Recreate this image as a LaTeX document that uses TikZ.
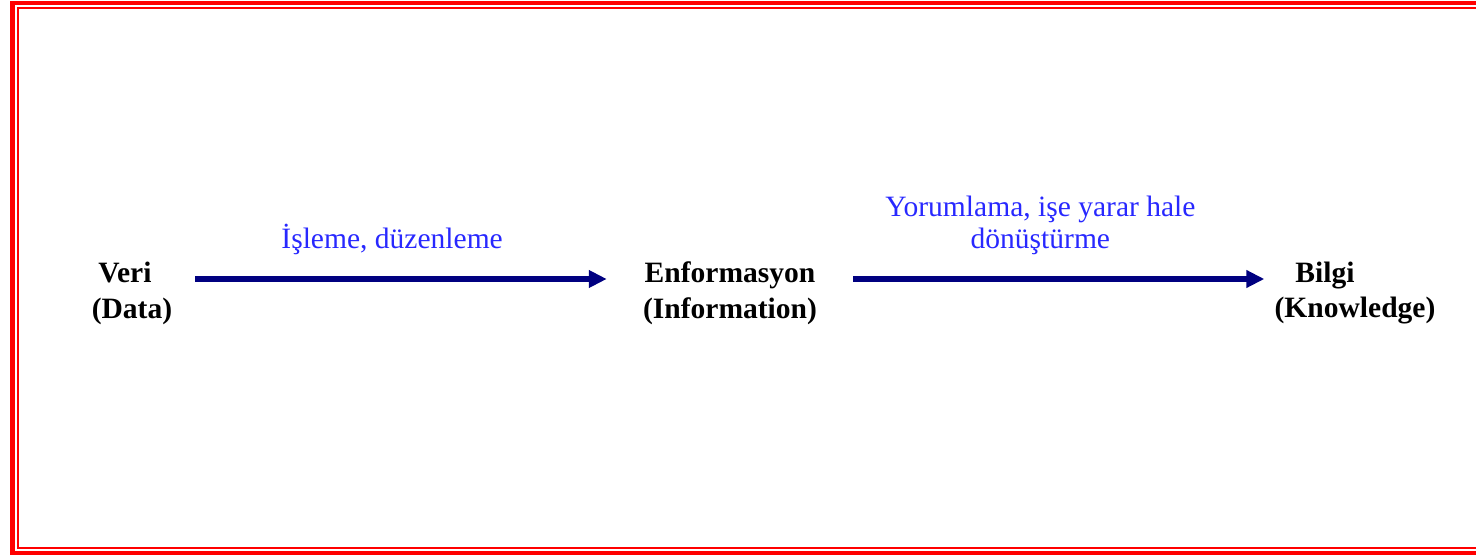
\documentclass[tikz,border=0pt]{standalone}
\usepackage{fontspec}
\setmainfont{Liberation Serif}
\usetikzlibrary{arrows.meta}
\definecolor{framered}{RGB}{255,0,0}
\definecolor{arrownavy}{RGB}{0,0,128}
\definecolor{labelblue}{RGB}{40,40,255}
\tikzset{
  term/.style={font=\fontsize{21}{25.5}\selectfont\bfseries, align=center, inner sep=0pt},
  steplabel/.style={font=\fontsize{21}{23}\selectfont, text=labelblue, align=center, inner sep=0pt},
  flow/.style={draw=arrownavy, line width=0.15cm, -{Triangle[length=0.45cm,width=0.42cm]}},
}
\begin{document}
\begin{tikzpicture}[x=0.025cm, y=-0.025cm]
	\useasboundingbox (0,0) rectangle (1476,558);
	\clip (0,0) rectangle (1476,558);
	% double red frame, open to the right
	\draw[framered, line width=0.1cm] (12.5,3) rectangle (1500,553);
	\draw[framered, line width=0.05cm] (18,8.5) rectangle (1500,548);
	% the three stages
	\node[term] (veri) at (132,293) {Veri\hspace*{0.35cm}\\(Data)};
	\node[term] (info) at (730,293) {Enformasyon\\(Information)};
	\node[term] (bilgi) at (1355,293) {Bilgi\hspace*{1.5cm}\\(Knowledge)};
	% the two steps
	\draw[flow] ([shift={(23,-14)}]veri.east) -- ([shift={(-36,-14)}]info.west)
		node[steplabel, midway, above=0.52cm, xshift=-0.225cm] (isleme) {İşleme, düzenleme};
	\draw[flow] ([shift={(36,-14)}]info.east) -- ([shift={(-10,-14)}]bilgi.west)
		node[steplabel, midway, above=0.52cm, xshift=-0.46cm] (yorum) {Yorumlama, işe yarar hale\\dönüştürme};
\end{tikzpicture}
\end{document}
